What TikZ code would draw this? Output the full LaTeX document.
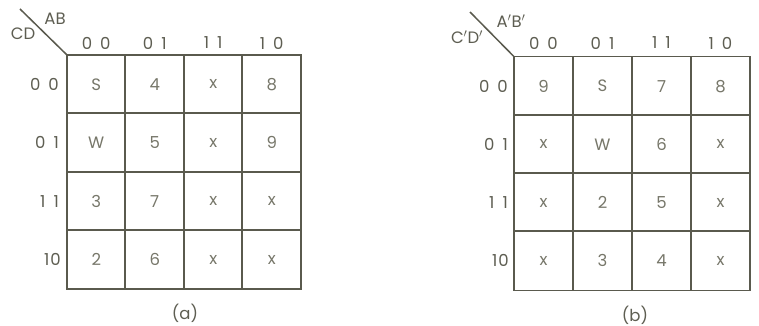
\documentclass[tikz,border=0pt]{standalone}
\usepackage{fontspec}
\setmainfont{Poppins}
\definecolor{linec}{HTML}{5A5A4E}
\definecolor{textc}{HTML}{77776A}
\definecolor{labc}{HTML}{5E5E52}
\begin{document}
\begin{tikzpicture}[x=1pt,y=-1pt,
  cellA/.style={minimum size=58.5pt, inner sep=0pt, text=textc, font=\fontsize{16.5}{18}\selectfont},
  cellB/.style={minimum size=59pt, inner sep=0pt, text=textc, font=\fontsize{16.5}{18}\selectfont},
  lab/.style={text=labc, inner sep=0pt, font=\fontsize{16.5}{18}\selectfont},
  grid/.style={draw=linec, line width=1.8pt, line cap=rect},
  diag/.style={draw=linec, line width=1.5pt}]
\fill[white] (0,0) rectangle (759,326);
\useasboundingbox (0,0) rectangle (759,326);
\newcommand{\dd}[2]{#1\hspace{8pt}#2}
% ---------- map (a)
\foreach \r/\row in {0/{S,4,x,8},1/{W,5,x,9},2/{3,7,x,x},3/{2,6,x,x}}{
  \foreach \v [count=\c from 0] in \row {
    \node[cellA] (a-\r-\c) at ({67+58.5*\c+29.25},{55+58.5*\r+29.25}) {\v};
  }
}
\draw[grid] (a-0-0.north west) rectangle (a-3-3.south east);
\foreach \c in {1,2,3}{\draw[grid] (a-0-\c.north west) -- (a-3-\c.south west);}
\foreach \r in {1,2,3}{\draw[grid] (a-\r-0.north west) -- (a-\r-3.north east);}
\foreach \a/\b [count=\c from 0] in {0/0,0/1,1/1,1/0}{
  \node[lab] (ah\c) at ({67+58.5*\c+29.25},43) {\dd{\a}{\b}};
}
\node[lab, anchor=east] (ar0) at (59,{55+29.25}) {\dd00};
\node[lab, anchor=east] (ar1) at (59,{55+58.5+29.25}) {\dd01};
\node[lab, anchor=east] (ar2) at (59,{55+117+29.25}) {\dd11};
\node[lab, anchor=east] (ar3) at (61,{55+175.5+29.25}) {1\hspace{1pt}0};
\coordinate (adstart) at (20,9);
\draw[diag] (adstart) -- (a-0-0.north west);
\node[lab] (aAB) at (55,19) {AB};
\node[lab] (aCD) at (23,34) {CD};
\node[lab] (acap) at (185,313) {(a)};
% ---------- map (b)
\foreach \r/\row in {0/{9,S,7,8},1/{x,W,6,x},2/{x,2,5,x},3/{x,3,4,x}}{
  \foreach \v [count=\c from 0] in \row {
    \node[cellB] (b-\r-\c) at ({514+59*\c+29.5},{57+58.25*\r+29.125}) {\v};
  }
}
\draw[grid] (b-0-0.north west) rectangle (b-3-3.south east);
\foreach \c in {1,2,3}{\draw[grid] (b-0-\c.north west) -- (b-3-\c.south west);}
\foreach \r in {1,2,3}{\draw[grid] (b-\r-0.north west) -- (b-\r-3.north east);}
\foreach \a/\b [count=\c from 0] in {0/0,0/1,1/1,1/0}{
  \node[lab] (bh\c) at ({514+59*\c+29.5},43) {\dd{\a}{\b}};
}
\node[lab, anchor=east] (br0) at (508,{57+29.125}) {\dd00};
\node[lab, anchor=east] (br1) at (508,{57+58.25+29.125}) {\dd01};
\node[lab, anchor=east] (br2) at (508,{57+116.5+29.125}) {\dd11};
\node[lab, anchor=east] (br3) at (509,{57+174.75+29.125}) {1\hspace{1pt}0};
\coordinate (bdstart) at (470,12);
\draw[diag] (bdstart) -- (b-0-0.north west);
\node[lab] (bAB) at (511,21) {A$'$B$'$};
\node[lab] (bCD) at (467,37) {C$'$D$'$};
\node[lab] (bcap) at (635,315) {(b)};
\end{tikzpicture}
\end{document}
